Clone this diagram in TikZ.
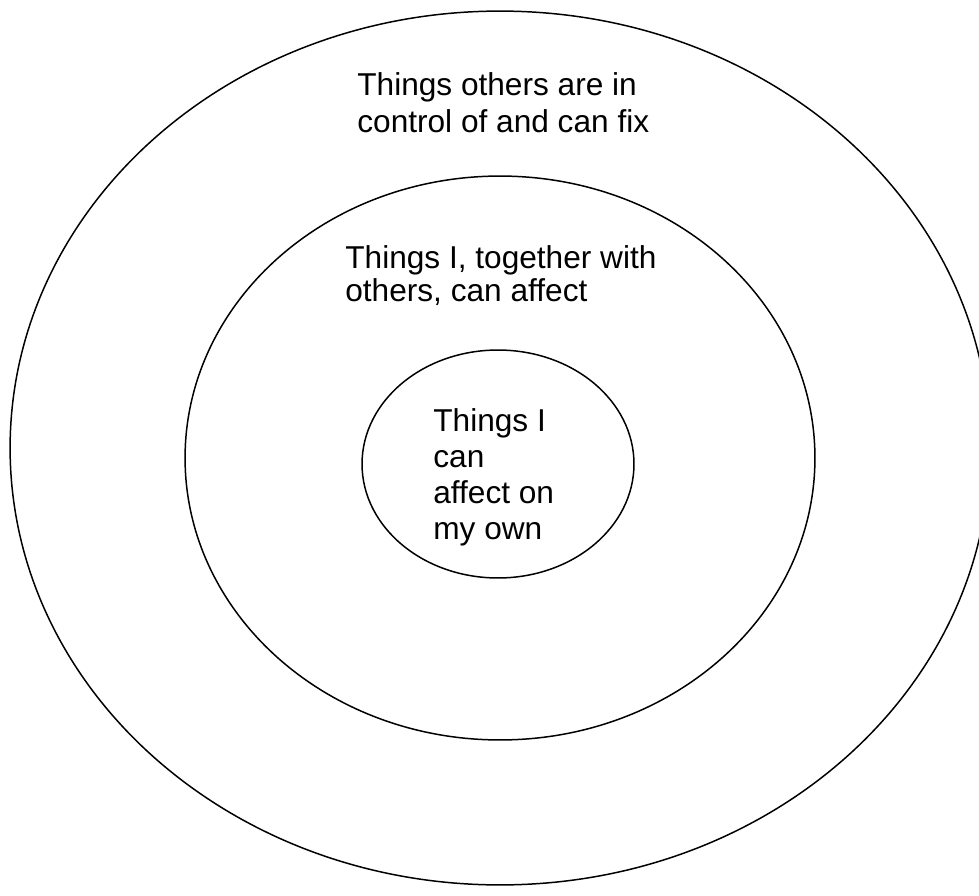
\documentclass[tikz,border=0pt]{standalone}
\usepackage{fontspec}
\setmainfont{Liberation Sans}
\usetikzlibrary{shapes.geometric}
\tikzset{
  aro/.style={ellipse, draw=black, line width=0.85pt, inner sep=0pt},
  rotulo/.style={anchor=north west, inner sep=0pt, align=left,
    font=\fontsize{18}{21}\selectfont},
}
\begin{document}
\begin{tikzpicture}[x=0.02cm, y=-0.02cm]
  \useasboundingbox (0,0) rectangle (979,895);
  \clip (0,0) rectangle (979,895);
  \node[aro, minimum width=19.6cm, minimum height=17.48cm] (externo) at (500,448) {};
  \node[aro, minimum width=12.6cm, minimum height=11.28cm] (medio) at (500,458) {};
  \node[aro, minimum width=5.44cm, minimum height=4.56cm] (interno) at (498,464) {};
  \node[rotulo] (txtexterno) at (357,72) {Things others are in\\control of and can fix};
  \node[rotulo, font=\fontsize{18}{18.8}\selectfont] (txtmedio) at (345,245) {Things I, together with\\others, can affect};
  \node[rotulo, font=\fontsize{18}{20.5}\selectfont] (txtinterno) at (433,408) {Things I\\can\\affect on\\my own};
\end{tikzpicture}
\end{document}
